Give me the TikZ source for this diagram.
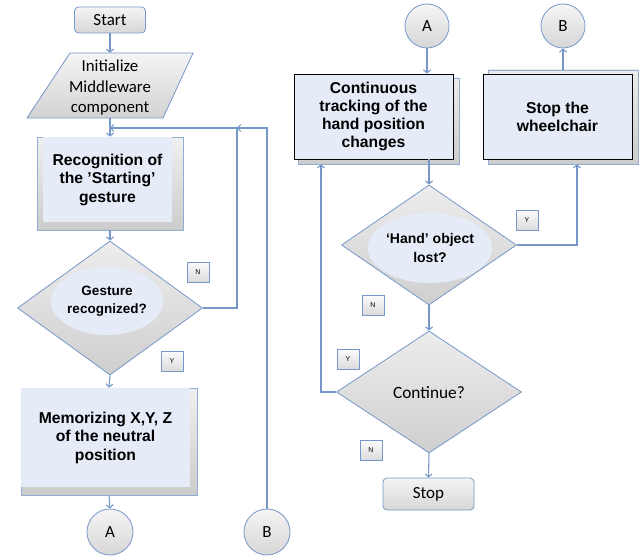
\documentclass[tikz,border=0pt]{standalone}
\usepackage{fontspec}
\setmainfont{Liberation Sans}
\newfontfamily\calfont{Carlito}
\usetikzlibrary{shapes.geometric,arrows.meta}
\definecolor{lb}{RGB}{118,152,200}
\definecolor{fillb}{RGB}{229,236,248}
\tikzset{
  line/.style={draw=lb, line width=1.1pt},
  conn/.style={line, -{Straight Barb[length=3pt,width=7pt]}},
  grayfill/.style={top color=gray!8, bottom color=gray!32},
  term/.style={rectangle, rounded corners=4pt, draw=lb, line width=0.8pt, grayfill, inner sep=0pt,
    font=\calfont\fontsize{17}{20}\selectfont},
  frame/.style={rectangle, draw=lb!80, line width=0.7pt, top color=gray!12, bottom color=gray!40, inner sep=0pt},
  inner/.style={rectangle, fill=fillb, inner sep=0pt, align=center, font=\bfseries\fontsize{15.7}{18.5}\selectfont},
  procbox/.style={rectangle, draw=black, line width=0.8pt, fill=fillb, inner sep=0pt, align=center,
    font=\bfseries\fontsize{15.7}{17.8}\selectfont},
  shadowbox/.style={rectangle, draw=lb!80, line width=0.6pt, top color=gray!15, bottom color=gray!40, inner sep=0pt},
  decision/.style={diamond, draw=lb, line width=0.8pt, top color=gray!14, bottom color=gray!38, inner sep=0pt},
  oval/.style={ellipse, fill=fillb, inner sep=0pt, align=center},
  conncirc/.style={circle, draw=lb, line width=0.8pt, grayfill, inner sep=0pt, font=\calfont\fontsize{17}{20}\selectfont},
  yn/.style={rectangle, draw=lb, line width=0.7pt, top color=gray!3, bottom color=gray!28,
    minimum width=22pt, minimum height=20pt, inner sep=0pt, font=\fontsize{7}{8}\selectfont}
}
\begin{document}
\begin{tikzpicture}[x=1pt,y=-1pt]
\useasboundingbox (0,0) rectangle (642,559);
% ---------- left column ----------
\node[term, minimum width=71pt, minimum height=26pt] (start) at (110,20) {Start};
\node[minimum width=123pt, minimum height=65pt, inner sep=0pt] (init) at (110,85.5) {};
\draw[draw=lb, line width=0.8pt, top color=gray!8, bottom color=gray!35]
  (70,53) -- (193,53) -- (163,118) -- (27,118) -- cycle;
\node[align=center, font=\calfont\fontsize{16.8}{20.5}\selectfont] (initT) at (110,88) {Initialize\\Middleware\\component};

\node[frame, minimum width=146pt, minimum height=93pt] (rec) at (110,183.5) {};
\node[inner, minimum width=129pt, minimum height=85pt] (recT) at (107.5,179.5) {Recognition of\\the ’Starting’\\gesture};

\node[decision, minimum width=185pt, minimum height=134pt] (gest) at (110,308) {};
\node[oval, minimum width=110pt, minimum height=68pt, font=\bfseries\fontsize{13.5}{17.5}\selectfont] (gestT) at (107,301) {Gesture\\recognized?};
\node[yn] (gN) at (198,272) {N};
\node[yn] (gY) at (172,361) {Y};

\node[frame, minimum width=176pt, minimum height=107pt] (mem) at (109,441.5) {};
\node[inner, minimum width=169pt, minimum height=99pt] (memT) at (105.5,437.5) {Memorizing X,Y, Z\\of the neutral\\position};

\node[conncirc, minimum size=46pt] (Al) at (110,532) {A};
\node[conncirc, minimum size=46pt] (Bl) at (267,532) {B};

\coordinate (nTop) at (237,128);
\coordinate (merge) at (110,128);

\draw[conn] (start.south) -- (init.north);
\draw[conn] (init.south) -- (rec.north);
\draw[conn] (rec.south) -- (gest.north);
\draw[conn] (gest.south) -- (mem.north);
\draw[conn] (mem.south) -- (Al.north);
\draw[conn] (gest.east) -| (nTop) -- (merge);
\draw[conn] (Bl.north) |- (nTop);

% ---------- right column ----------
\node[conncirc, minimum size=44pt] (Ar) at (427,26) {A};
\node[conncirc, minimum size=44pt] (Br) at (563,26) {B};

\node[shadowbox, minimum width=161pt, minimum height=86pt] (contS) at (378.5,121) {};
\node[procbox, minimum width=159pt, minimum height=85pt] (cont) at (373.5,116.5) {Continuous\\tracking of the\\hand position\\changes};

\node[shadowbox, minimum width=150pt, minimum height=94pt] (stopS) at (563,117) {};
\node[procbox, minimum width=149pt, minimum height=85pt] (stopW) at (557.5,116.5) {Stop the\\wheelchair};

\node[decision, minimum width=175pt, minimum height=120pt] (hand) at (429,245) {};
\node[oval, minimum width=114pt, minimum height=70pt, font=\bfseries\fontsize{14}{19}\selectfont] (handT) at (430,248) {‘Hand’ object\\lost?};
\node[yn] (hY) at (527,220) {Y};
\node[yn] (hN) at (373,305) {N};

\node[decision, minimum width=185pt, minimum height=122pt] (cont2) at (429,392) {};
\node[font=\calfont\fontsize{17.3}{20}\selectfont] (cont2T) at (429,393) {Continue?};
\node[yn] (cY) at (348,359) {Y};
\node[yn] (cN) at (371,450) {N};

\node[term, minimum width=91pt, minimum height=32pt] (stop) at (428.5,494) {Stop};

\draw[conn] (Ar.south) -- (Ar.south |- cont.north);
\draw[conn] (hand.north |- cont.south) -- (hand.north);
\draw[conn] (stopS.north) -- (Br.south);
\draw[conn] (hand.east) -| ([xshift=14pt]stopS.south);
\draw[conn] (hand.south) -- (cont2.north);
\draw[conn] (cont2.west) -| ([xshift=-57.5pt]contS.south);
\draw[conn] (cont2.south) -- (stop.north);
\end{tikzpicture}
\end{document}
